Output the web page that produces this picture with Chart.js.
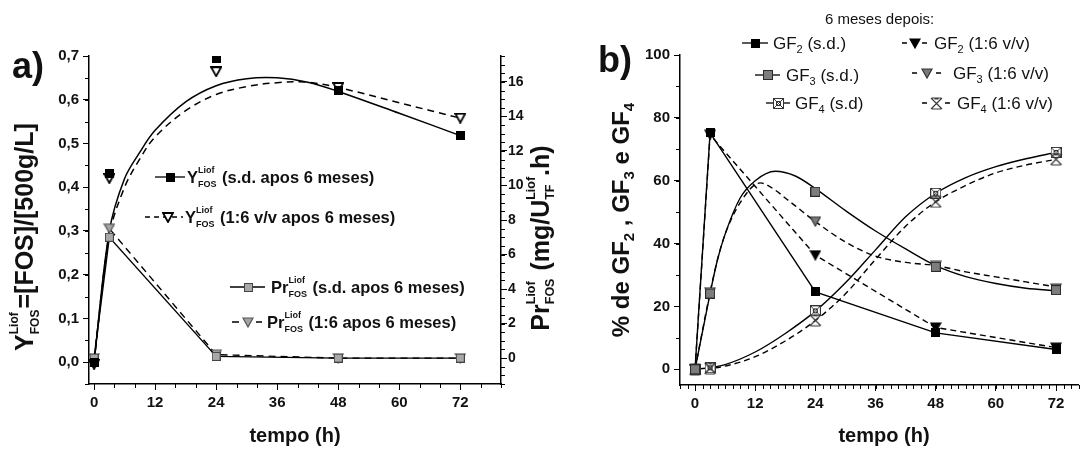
<!DOCTYPE html>
<html><head><meta charset="utf-8">
<script src="https://cdn.jsdelivr.net/npm/chart.js@4.4.1/dist/chart.umd.min.js"></script>
<style>
html,body{margin:0;padding:0;background:#fff;}
#wrap{position:relative;width:1085px;height:451px;overflow:hidden;background:#fff;}
canvas{position:absolute;left:0;top:0;}
</style></head><body>
<div id="wrap"><canvas id="ca" width="1085" height="451"></canvas><canvas id="cb" width="1085" height="451"></canvas></div>
<script>
// ---------- Panel a data ----------
const hoursA = [0, 3, 24, 48, 72];
const yieldSd = [0.0, 0.431, 0.695, 0.622, 0.518];
const yield16 = [-0.005, 0.42, 0.664, 0.628, 0.558];
const prodSd = [0.0, 7.0, 0.1, 0.0, 0.0];
const prod16 = [0.0, 7.5, 0.2, 0.0, 0.0];
const fitHoursA = [0, 3, 6, 9, 12, 18, 24, 30, 36, 42, 48, 60, 72];
const yieldSdFit = [0.0, 0.30, 0.42, 0.48, 0.53, 0.595, 0.632, 0.648, 0.650, 0.640, 0.619, 0.569, 0.518];
const yield16Fit = [0.0, 0.29, 0.40, 0.465, 0.515, 0.575, 0.612, 0.630, 0.639, 0.640, 0.628, 0.593, 0.558];
const xTicksA = [0, 12, 24, 36, 48, 60, 72];
const yTicksA = [0, 0.1, 0.2, 0.3, 0.4, 0.5, 0.6, 0.7];
const y2TicksA = [0, 2, 4, 6, 8, 10, 12, 14, 16];

// ---------- Panel b data ----------
const hoursB = [0, 3, 24, 48, 72];
const gf2Sd = [0, 75.2, 24.6, 11.6, 6.3];
const gf2V = [0, 74.6, 36.3, 13.3, 6.9];
const gf3Sd = [0, 24.1, 56.5, 32.6, 25.2];
const gf3V = [0, 24.5, 47.0, 32.9, 25.7];
const gf4Sd = [0, 0.5, 18.6, 56.0, 69.0];
const gf4V = [0, 0.3, 15.6, 53.3, 66.8];
const fitHoursGF3Sd = [0, 3, 4.5, 6, 9, 12, 16, 20, 24, 30, 36, 42, 48, 54, 60, 66, 72];
const gf3SdFit = [0, 24.1, 35, 43, 54.5, 60, 63, 61.5, 57.5, 50.5, 44, 38.3, 33, 29.5, 27.3, 25.8, 25];
const fitHoursGF3V = [0, 3, 4.5, 6, 9, 13, 16, 18, 20, 24, 30, 36, 42, 48, 54, 60, 66, 72];
const gf3VFit = [0, 24.5, 35, 43, 53, 59.3, 57, 54.5, 52, 47, 40.5, 36, 34, 33, 31, 29.4, 27.8, 26.2];
const fitHoursGF4 = [0, 3, 6, 12, 18, 24, 30, 36, 42, 48, 54, 60, 66, 72];
const gf4SdFit = [0, 0.5, 1.5, 5.5, 11.4, 18.5, 27.5, 38, 48.5, 56, 61, 64.5, 67, 69];
const gf4VFit = [0, 0.3, 1, 4, 9, 15.5, 24, 35, 45.5, 53.3, 58.5, 62.5, 65, 66.8];
const xTicksB = [0, 12, 24, 36, 48, 60, 72];
const yTicksB = [0, 20, 40, 60, 80, 100];

const FONT = "'Liberation Sans', Arial, Helvetica, sans-serif";
const TXT = '#111';
const pts = (xs, ys) => xs.map((x, i) => ({x, y: ys[i]}));

// ---------- marker images ----------
function makeMarker(w, h, fn) { const c = document.createElement('canvas'); c.width = w; c.height = h; const g = c.getContext('2d'); fn(g, w, h); return c; }
function tri(fill, stroke, lw) {
  return makeMarker(12, 11, (g, w, h) => {
    g.beginPath(); g.moveTo(1, 1); g.lineTo(w - 1, 1); g.lineTo(w / 2, h - 1); g.closePath();
    g.fillStyle = fill; g.fill(); g.strokeStyle = stroke; g.lineWidth = lw || 1.2; g.lineJoin = 'miter'; g.stroke();
  });
}
const M = {
  sqBlack: makeMarker(9, 9, (g, w, h) => { g.fillStyle = '#000'; g.fillRect(0, 0, w, h); }),
  sqGray: makeMarker(10, 10, (g, w, h) => { g.fillStyle = '#7d7d7d'; g.fillRect(0, 0, w, h); g.strokeStyle = '#2a2a2a'; g.lineWidth = 1; g.strokeRect(0.5, 0.5, w - 1, h - 1); }),
  sqLight: makeMarker(9, 9, (g, w, h) => { g.fillStyle = '#a8a8a8'; g.fillRect(0, 0, w, h); g.strokeStyle = '#444'; g.lineWidth = 1; g.strokeRect(0.5, 0.5, w - 1, h - 1); }),
  triBlack: tri('#000', '#000'),
  triOpen: tri('#fff', '#000', 1.8),
  triGray: tri('#7a7a7a', '#333'),
  triLight: tri('#a3a3a3', '#555'),
  sqX: makeMarker(11, 11, (g, w, h) => {
    g.fillStyle = '#fff'; g.fillRect(0, 0, w, h); g.strokeStyle = '#333'; g.lineWidth = 1;
    g.strokeRect(0.5, 0.5, w - 1, h - 1);
    g.beginPath(); g.moveTo(1, 1); g.lineTo(w - 1, h - 1); g.moveTo(w - 1, 1); g.lineTo(1, h - 1); g.stroke();
    g.strokeRect(3.5, 3.5, w - 7, h - 7);
  }),
  xStar: makeMarker(13, 13, (g, w, h) => {
    g.strokeStyle = '#3a3a3a'; g.lineWidth = 1.2; g.beginPath();
    g.moveTo(1, 1); g.lineTo(w - 1, h - 1); g.moveTo(w - 1, 1); g.lineTo(1, h - 1);
    g.moveTo(2, 1); g.lineTo(w - 2, 1); g.moveTo(2, h - 1); g.lineTo(w - 2, h - 1);
    g.moveTo(w / 2 - 2, 2); g.lineTo(w / 2 + 2, 2);
    g.stroke();
  })
};

// ---------- rich text ----------
function fnt(p) { return `${p.w || 'bold'} ${p.s}px ${FONT}`; }
function drawRich(ctx, parts, x, y, align) {
  let w = 0; const items = [];
  for (const p of parts) {
    ctx.font = fnt(p);
    if (p.stack) { const a = ctx.measureText(p.sup).width, b = ctx.measureText(p.sub).width; items.push({p, x: w}); w += Math.max(a, b) + 1; }
    else { items.push({p, x: w}); w += ctx.measureText(p.t).width; }
  }
  const x0 = align === 'center' ? x - w / 2 : x;
  ctx.textAlign = 'left'; ctx.textBaseline = 'alphabetic'; ctx.fillStyle = TXT;
  for (const it of items) {
    const p = it.p; ctx.font = fnt(p);
    if (p.stack) { ctx.fillText(p.sup, x0 + it.x, y + p.supDy); ctx.fillText(p.sub, x0 + it.x, y + p.subDy); }
    else ctx.fillText(p.t, x0 + it.x, y + (p.dy || 0));
  }
}
function sample(ctx, segs, y, dash, marker, mx) {
  ctx.save(); ctx.strokeStyle = '#000'; ctx.lineWidth = 1.3; ctx.setLineDash(dash || []);
  ctx.beginPath(); for (const s of segs) { ctx.moveTo(s[0], y); ctx.lineTo(s[1], y); } ctx.stroke(); ctx.restore();
  ctx.drawImage(marker, Math.round(mx - marker.width / 2), Math.round(y - marker.height / 2));
}

// ---------- minor ticks plugin ----------
const minorTicks = {
  id: 'minorTicks',
  afterDraw(chart, args, opts) {
    const ctx = chart.ctx; ctx.save(); ctx.strokeStyle = '#000'; ctx.lineWidth = 1;
    for (const id of Object.keys(opts.steps || {})) {
      const step = opts.steps[id]; const s = chart.scales[id]; if (!s) continue;
      const n0 = Math.ceil(s.min / step - 1e-9), n1 = Math.floor(s.max / step + 1e-9);
      for (let n = n0; n <= n1; n++) {
        const p = Math.round(s.getPixelForValue(n * step)) + 0.5;
        ctx.beginPath();
        if (s.isHorizontal()) { ctx.moveTo(p, s.top); ctx.lineTo(p, s.top + 4); }
        else if (s.position === 'left') { ctx.moveTo(s.right, p); ctx.lineTo(s.right - 4, p); }
        else { ctx.moveTo(s.left, p); ctx.lineTo(s.left + 4, p); }
        ctx.stroke();
      }
    }
    ctx.restore();
  }
};

function axis(extra) {
  return Object.assign({
    type: 'linear',
    grid: {display: true, drawOnChartArea: false, drawTicks: true, tickLength: 6, color: '#000', lineWidth: 1},
    border: {display: true, color: '#000', width: 1.5},
    ticks: {font: {family: FONT, size: 15, weight: 'bold'}, color: TXT, padding: 4}
  }, extra);
}
const baseOpts = {animation: false, responsive: false, devicePixelRatio: 1, events: []};

// ---------- Panel a ----------
const annotA = {
  id: 'annotA',
  afterDraw(chart) {
    const ctx = chart.ctx; ctx.save();
    ctx.fillStyle = TXT; ctx.font = `bold 36px ${FONT}`; ctx.textAlign = 'left'; ctx.textBaseline = 'alphabetic';
    ctx.fillText('a)', 12, 78);
    drawRich(ctx, [{t: 'tempo (h)', s: 20}], 295, 442, 'center');
    ctx.save(); ctx.translate(33, 237); ctx.rotate(-Math.PI / 2);
    drawRich(ctx, [{t: 'Y', s: 25}, {stack: true, sup: 'Liof', sub: 'FOS', s: 12, supDy: -15, subDy: 6}, {t: '=[FOS]/[500g/L]', s: 25}], 0, 0, 'center');
    ctx.restore();
    ctx.save(); ctx.translate(549, 238); ctx.rotate(-Math.PI / 2);
    drawRich(ctx, [{t: 'Pr', s: 25}, {stack: true, sup: 'Liof', sub: 'FOS', s: 12.5, supDy: -14, subDy: 5}, {t: ' (mg/U', s: 25}, {stack: true, sup: 'Liof', sub: 'TF', s: 12.5, supDy: -14, subDy: 5}, {t: '.h)', s: 25}], 0, 0, 'center');
    ctx.restore();
    const st = {stack: true, sup: 'Liof', sub: 'FOS', s: 9, supDy: -10.5, subDy: 3.5};
    sample(ctx, [[155, 185]], 177, [], M.sqBlack, 170);
    drawRich(ctx, [{t: 'Y', s: 16.5}, st, {t: ' (s.d. apos 6 meses)', s: 16.5}], 187, 183);
    sample(ctx, [[145, 183]], 217, [5, 4], M.triOpen, 168);
    drawRich(ctx, [{t: 'Y', s: 16.5}, st, {t: ' (1:6 v/v apos 6 meses)', s: 16.5}], 185, 223);
    sample(ctx, [[230, 265]], 287, [], M.sqLight, 248);
    drawRich(ctx, [{t: 'Pr', s: 16.5}, st, {t: ' (s.d. apos 6 meses)', s: 16.5}], 271, 293);
    sample(ctx, [[232, 239], [256, 262]], 322, [], M.triLight, 248);
    drawRich(ctx, [{t: 'Pr', s: 16.5}, st, {t: ' (1:6 apos 6 meses)', s: 16.5}], 267, 328);
    ctx.restore();
  }
};

new Chart(document.getElementById('ca'), {
  type: 'line',
  data: {datasets: [
    {data: pts(fitHoursA, yieldSdFit), yAxisID: 'y', borderColor: '#000', borderWidth: 1.5, pointRadius: 0, tension: 0.35, order: 5},
    {data: pts(fitHoursA, yield16Fit), yAxisID: 'y', borderColor: '#000', borderWidth: 1.5, borderDash: [7, 5], pointRadius: 0, tension: 0.35, order: 5},
    {data: pts(hoursA, prod16), yAxisID: 'y2', borderColor: '#000', borderWidth: 1.4, borderDash: [7, 5], tension: 0, pointStyle: M.triLight, pointRadius: 5, order: 3},
    {data: pts(hoursA, prodSd), yAxisID: 'y2', borderColor: '#000', borderWidth: 1.4, tension: 0, pointStyle: M.sqLight, pointRadius: 5, order: 2},
    {data: pts(hoursA, yield16), yAxisID: 'y', showLine: false, pointStyle: M.triOpen, pointRadius: 5, order: 1},
    {data: pts(hoursA, yieldSd), yAxisID: 'y', showLine: false, pointStyle: M.sqBlack, pointRadius: 5, order: 0}
  ]},
  options: Object.assign({}, baseOpts, {
    layout: {padding: {left: 29, right: 544, top: 56, bottom: 27}},
    plugins: {legend: {display: false}, tooltip: {enabled: false}, minorTicks: {steps: {x: 4, y: 0.05, y2: 0.5}}},
    scales: {
      x: axis({min: -1, max: 80, position: 'bottom', afterBuildTicks: s => { s.ticks = xTicksA.map(v => ({value: v})); }, afterFit: s => { s.height = 40; }}),
      y: axis({min: -0.05, max: 0.7, position: 'left', afterBuildTicks: s => { s.ticks = yTicksA.map(v => ({value: v})); }, afterFit: s => { s.width = 60; },
        ticks: {font: {family: FONT, size: 15, weight: 'bold'}, color: TXT, padding: 4, callback: v => Number(v).toFixed(1).replace('.', ',')}}),
      y2: axis({min: -1.5, max: 17.5, position: 'right', afterBuildTicks: s => { s.ticks = y2TicksA.map(v => ({value: v})); }, afterFit: s => { s.width = 40; },
        ticks: {font: {family: FONT, size: 14, weight: 'bold'}, color: TXT, padding: 1}})
    }
  }),
  plugins: [minorTicks, annotA]
});

// ---------- Panel b ----------
const annotB = {
  id: 'annotB',
  afterDraw(chart) {
    const ctx = chart.ctx; ctx.save();
    ctx.fillStyle = TXT; ctx.font = `bold 36px ${FONT}`; ctx.textAlign = 'left'; ctx.textBaseline = 'alphabetic';
    ctx.fillText('b)', 598, 72);
    drawRich(ctx, [{t: 'tempo (h)', s: 20}], 884, 442, 'center');
    ctx.save(); ctx.translate(629, 220); ctx.rotate(-Math.PI / 2);
    drawRich(ctx, [{t: '% de GF', s: 24}, {t: '2', s: 15, dy: 5}, {t: ' , GF', s: 24}, {t: '3', s: 15, dy: 5}, {t: ' e GF', s: 24}, {t: '4', s: 15, dy: 5}], 0, 0, 'center');
    ctx.restore();
    drawRich(ctx, [{t: '6 meses depois:', s: 15, w: 'normal'}], 825, 24);
    const g = (n, rest) => [{t: 'GF', s: 17, w: 'normal'}, {t: n, s: 11, w: 'normal', dy: 4}, {t: rest, s: 17, w: 'normal'}];
    sample(ctx, [[742, 768]], 43, [], M.sqBlack, 755);
    drawRich(ctx, g('2', ' (s.d.)'), 773, 49);
    sample(ctx, [[755, 780]], 75, [], M.sqGray, 768);
    drawRich(ctx, g('3', ' (s.d.)'), 786, 81);
    sample(ctx, [[766, 790]], 103, [], M.sqX, 778);
    drawRich(ctx, g('4', ' (s.d)'), 795, 109);
    sample(ctx, [[902, 907], [922, 927]], 43, [], M.triBlack, 915);
    drawRich(ctx, g('2', ' (1:6 v/v)'), 934, 49);
    sample(ctx, [[912, 917], [936, 941]], 73, [], M.triGray, 927);
    drawRich(ctx, g('3', ' (1:6 v/v)'), 953, 79);
    sample(ctx, [[922, 927], [945, 950]], 103, [], M.xStar, 936);
    drawRich(ctx, g('4', ' (1:6 v/v)'), 957, 109);
    ctx.restore();
  }
};

const curve = (xs, ys, dash) => ({data: pts(xs, ys), borderColor: '#000', borderWidth: 1.4, borderDash: dash || [], pointRadius: 0, cubicInterpolationMode: 'monotone', order: 5});
const marks = (ys, style, ord) => ({data: pts(hoursB, ys), showLine: false, pointStyle: style, pointRadius: 5, order: ord});

new Chart(document.getElementById('cb'), {
  type: 'line',
  data: {datasets: [
    curve(fitHoursGF3Sd, gf3SdFit),
    curve(fitHoursGF3V, gf3VFit, [6, 4]),
    curve(fitHoursGF4, gf4SdFit),
    curve(fitHoursGF4, gf4VFit, [6, 4]),
    {data: pts(hoursB, gf2V), borderColor: '#000', borderWidth: 1.4, borderDash: [6, 4], tension: 0, pointStyle: M.triBlack, pointRadius: 5, order: 3},
    {data: pts(hoursB, gf2Sd), borderColor: '#000', borderWidth: 1.4, tension: 0, pointStyle: M.sqBlack, pointRadius: 5, order: 2},
    marks(gf3V, M.triGray, 1),
    marks(gf3Sd, M.sqGray, 0),
    marks(gf4Sd, M.sqX, 1),
    marks(gf4V, M.xStar, 0)
  ]},
  options: Object.assign({}, baseOpts, {
    layout: {padding: {left: 620, right: 0, top: 55, bottom: 26}},
    plugins: {legend: {display: false}, tooltip: {enabled: false}, minorTicks: {steps: {x: 1.5, y: 10}}},
    scales: {
      x: axis({min: -3, max: 76.5, position: 'bottom', afterBuildTicks: s => { s.ticks = xTicksB.map(v => ({value: v})); }, afterFit: s => { s.height = 40; }}),
      y: axis({min: -5, max: 100, position: 'left', afterBuildTicks: s => { s.ticks = yTicksB.map(v => ({value: v})); }, afterFit: s => { s.width = 60; }})
    }
  }),
  plugins: [minorTicks, annotB]
});
</script>
</body></html>
